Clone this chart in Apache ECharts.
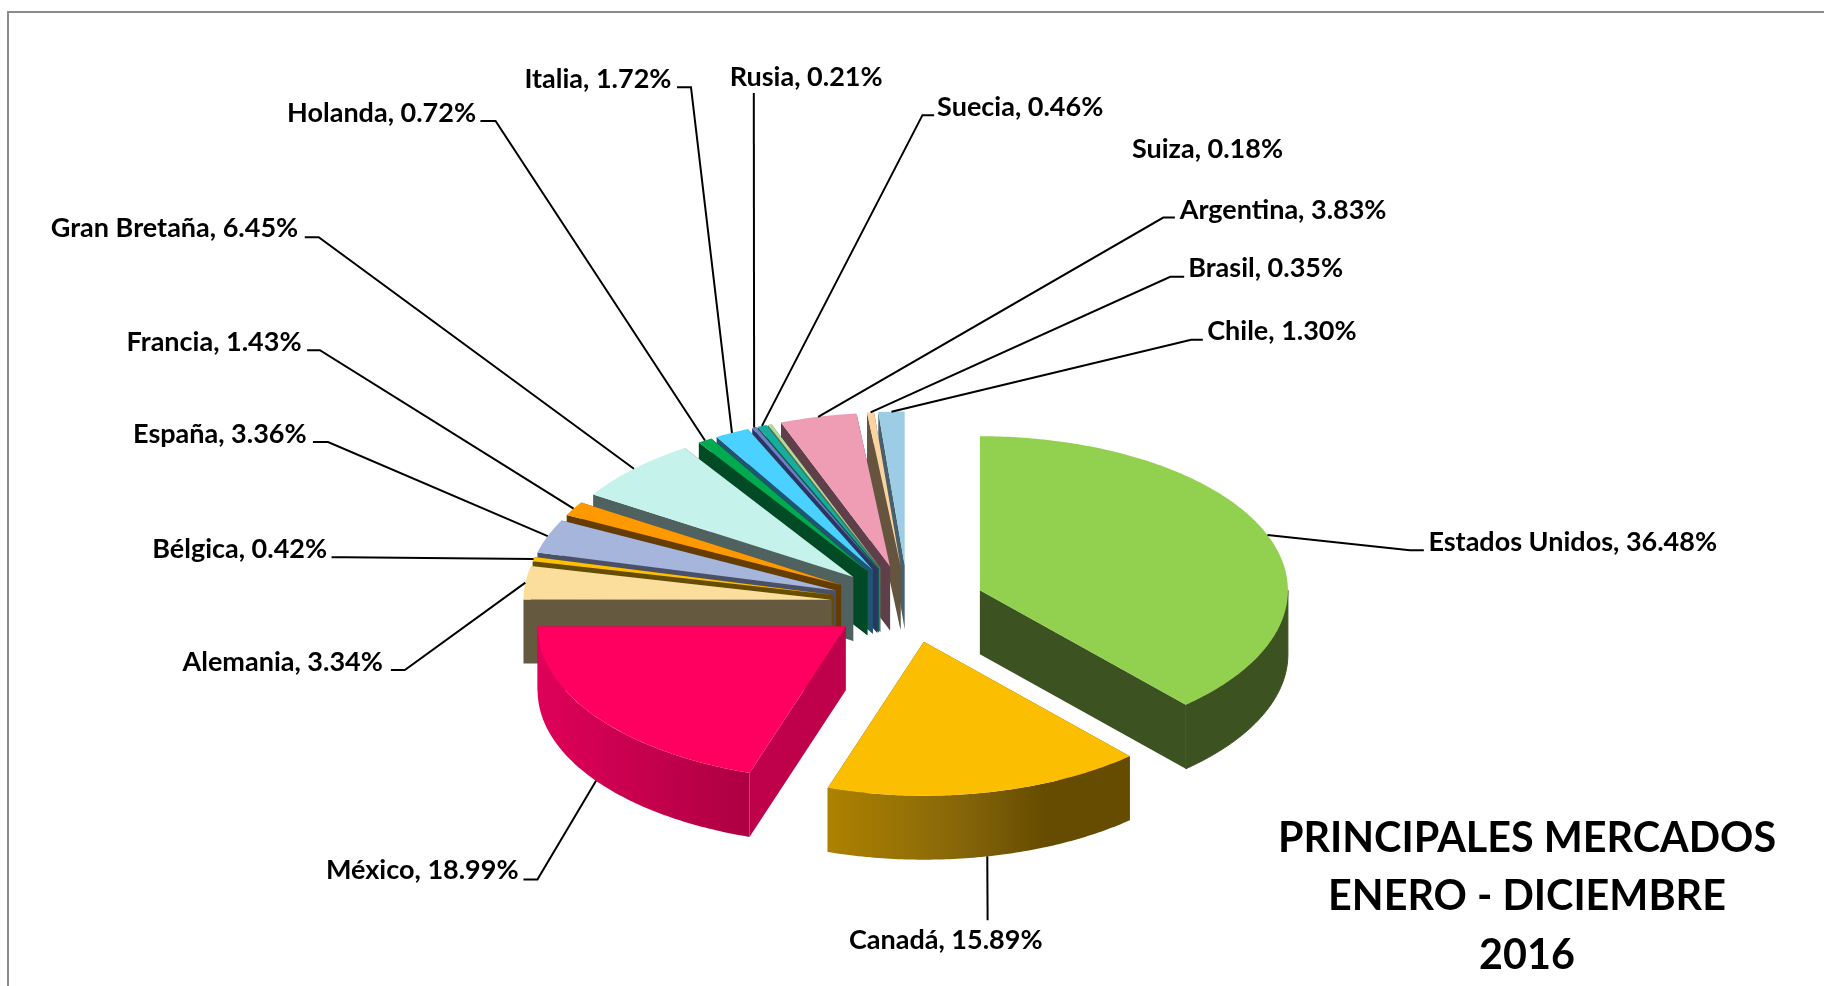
<!DOCTYPE html>
<html>
<head>
<meta charset="utf-8">
<style>html,body{margin:0;padding:0;background:#fff;overflow:hidden}#c{width:1824px;height:986px}</style>
<script src="https://cdn.jsdelivr.net/npm/echarts@6/dist/echarts.min.js"></script>
</head>
<body>
<div id="c"></div>
<script>
const categories = ['Estados Unidos','Canadá','México','Alemania','Bélgica','España','Francia','Gran Bretaña','Holanda','Italia','Rusia','Suecia','Suiza','Argentina','Brasil','Chile'];
const shares = [36.48,15.89,18.99,3.34,0.42,3.36,1.43,6.45,0.72,1.72,0.21,0.46,0.18,3.83,0.35,1.30];
const titleLines = ['PRINCIPALES MERCADOS','ENERO - DICIEMBRE','2016'];

const topColors = ['#92D050','#FCBE00','#FF0060','#FCDE9C','#FFC000','#A6B5DB','#FF9900','#C5F2EA','#00AB50','#4AD1FF','#6F7FC8','#17AC9C','#B2DB9C','#EE9DB5','#FBD3A0','#9CCDE5'];
const wallColors = ['#3C5321','#664D00','#BF004A','#655A3F','#664D00','#4A5068','#663D00','#4F6260','#004A25','#1F5570','#2C3560','#0A5A50','#5A7050','#5F3F4A','#65553F','#47606E'];
const arcWallStops = {
  1: [[0,'#AD8200'],[0.45,'#85650A'],[0.72,'#664C00'],[1,'#664C00']],
  2: [[0,'#DF0059'],[1,'#AD0042']]
};

// pie projection
const CX = 908, CY = 604, RX = 308, RY = 154, EXPLODE = 77, DEPTH = 64;

// label layout in 1568-wide reference units: [centre x, centre y], and elbow route
const K = 1824 / 1568;
const labelCentres = [[1352,466.5],[813,808.5],[363,748.5],[243,569.5],[206,472.5],[189,373.5],[184,294.5],[150,196.5],[328,97.5],[514,68.5],[693,66.5],[877,92.5],[1038,128.5],[1103,180.5],[1088,230.5],[1102,284.5]];
const leaderRoutes = [
  [[1212,473],[1224,473]],
  [[849,791]],
  [[462,756],[450,756]],
  [[348,576],[336,576]],
  [[297,479],[285,479]],
  [[282,380],[269,380]],
  [[275,301],[264,301]],
  [[274,204],[262,204]],
  [[426,104],[413,104]],
  [[594,75],[582,75]],
  [[648,80]],
  [[793,99],[803,99]],
  null,
  [[1000,187],[1010,187]],
  [[1006,238],[1018,238]],
  [[1024,292],[1034,292]]
];

const total = shares.reduce((a, b) => a + b, 0);
const startAt = [];
shares.reduce((acc, v, i) => { startAt[i] = acc; return acc + v; }, 0);

function slice(i) {
  const a0 = startAt[i] / total * 2 * Math.PI;
  const a1 = (startAt[i] + shares[i]) / total * 2 * Math.PI;
  const m = (a0 + a1) / 2;
  const ax = CX + EXPLODE * Math.sin(m);
  const ay = CY - EXPLODE * 0.5 * Math.cos(m);
  const pt = a => [ax + RX * Math.sin(a), ay - RY * Math.cos(a)];
  return { a0, a1, m, ax, ay, pt };
}
const down = (p, d) => [p[0], p[1] + d];

function arcPoints(s, from, to) {
  const n = Math.max(2, Math.ceil((to - from) / (Math.PI / 240)));
  const out = [];
  for (let k = 0; k <= n; k++) out.push(s.pt(from + (to - from) * k / n));
  return out;
}

// back-to-front draw rank
const rank = shares.map((_, i) => i).sort((p, q) => slice(p).ay - slice(q).ay);

function renderItem(params, api) {
  const i = params.dataIndex;
  const s = slice(i);
  const base = rank.indexOf(i) * 5 + 10;
  const kids = [];
  const apex = [s.ax, s.ay];
  const wallFill = wallColors[i];

  // radial walls
  [s.a0, s.a1].forEach(a => {
    const e = s.pt(a);
    kids.push({ type: 'polygon', z2: base, silent: true,
      shape: { points: [apex, e, down(e, DEPTH), down(apex, DEPTH)] },
      style: { fill: wallFill } });
  });

  // outer curved wall, only the part facing the viewer
  const f0 = Math.max(s.a0, Math.PI / 2), f1 = Math.min(s.a1, 3 * Math.PI / 2);
  if (f1 > f0) {
    const arc = arcPoints(s, f0, f1);
    const stops = arcWallStops[i];
    const fill = stops
      ? new echarts.graphic.LinearGradient(0, 0, 1, 0, stops.map(t => ({ offset: t[0], color: t[1] })))
      : wallFill;
    const style = stops ? { fill } : { fill, stroke: wallFill, lineWidth: 1 };
    kids.push({ type: 'polygon', z2: base + 1, silent: true,
      shape: { points: arc.concat(arc.slice().reverse().map(p => down(p, DEPTH))) },
      style });
  }

  // top face
  kids.push({ type: 'polygon', z2: base + 2, silent: true,
    shape: { points: [apex].concat(arcPoints(s, s.a0, s.a1)) },
    style: { fill: topColors[i] } });

  // leader line
  const route = leaderRoutes[i];
  if (route) {
    let from = s.pt(s.m);
    if (i === 1 || i === 2) from = down(from, DEPTH);
    kids.push({ type: 'polyline', z2: 200, silent: true,
      shape: { points: [from].concat(route.map(p => [p[0] * K, p[1] * K])) },
      style: { stroke: '#000', lineWidth: 2, fill: null } });
  }

  // label
  const lc = labelCentres[i];
  kids.push({ type: 'text', z2: 201, silent: true,
    style: { text: categories[i] + ', ' + api.value(0).toFixed(2) + '%',
      x: lc[0] * K, y: lc[1] * K, align: 'center', verticalAlign: 'middle', textAlign: 'center', textVerticalAlign: 'middle',
      font: 'bold 27px Lato', fill: '#000' } });

  return { type: 'group', children: kids };
}

const chart = echarts.init(document.getElementById('c'), null, { renderer: 'canvas' });
chart.setOption({
  animation: false,
  backgroundColor: '#fff',
  title: {
    text: titleLines.join('\n'),
    left: 1522, top: 804, textAlign: 'center',
    textStyle: { fontFamily: 'Lato', fontWeight: 'bold', fontSize: 41.3, lineHeight: 58.5, color: '#000' }
  },
  graphic: [
    { type: 'polyline', silent: true, shape: { points: [[8, 990], [8, 12], [1830, 12]] },
      style: { stroke: '#8C8C8C', lineWidth: 2, fill: null } }
  ],
  series: [{
    type: 'custom',
    coordinateSystem: 'none',
    silent: true,
    renderItem,
    data: shares.map(v => [v])
  }]
});
</script>
</body>
</html>
